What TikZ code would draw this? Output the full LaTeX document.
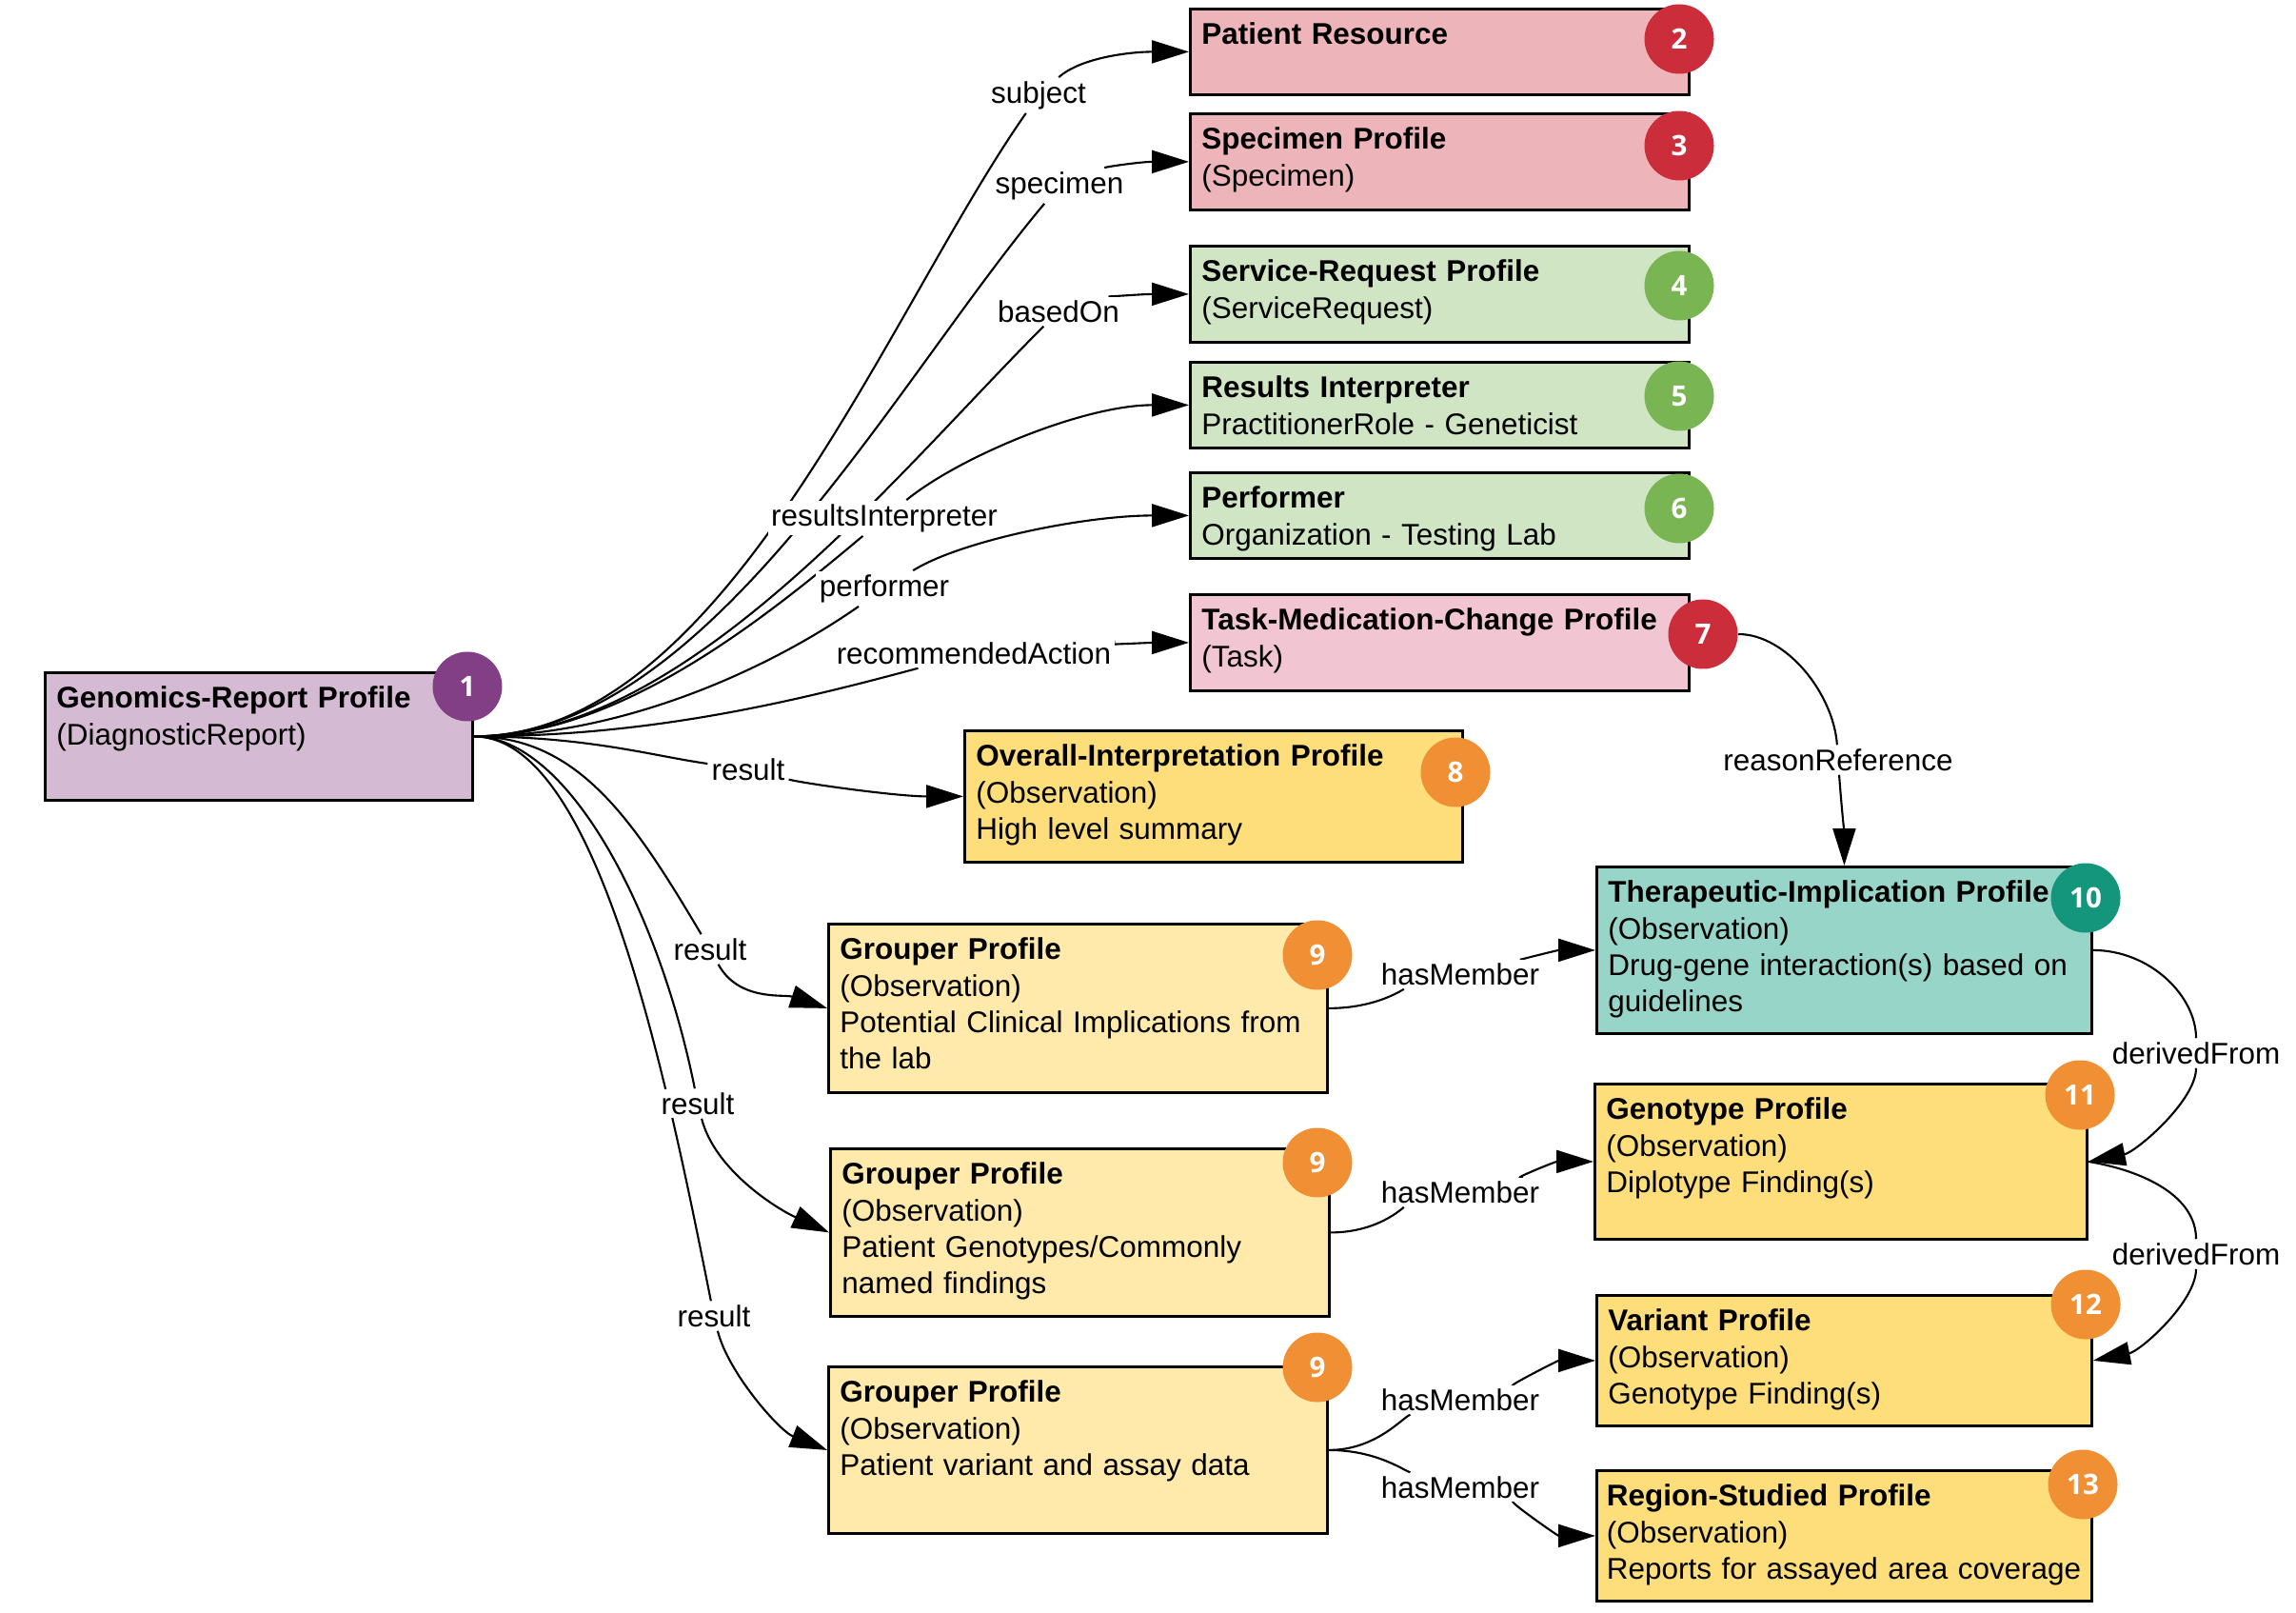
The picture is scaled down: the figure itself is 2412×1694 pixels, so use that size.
\documentclass[tikz,border=0pt]{standalone}
\usepackage{fontspec}
\setmainfont{Liberation Sans}
\newfontfamily\badgefont{Open Sans}
\usetikzlibrary{arrows.meta,backgrounds}

\definecolor{reportfill}{HTML}{D4BBD3}
\definecolor{reportmark}{HTML}{823F85}
\definecolor{redfill}{HTML}{EDB5B9}
\definecolor{taskfill}{HTML}{F2C5D2}
\definecolor{redmark}{HTML}{CB2D3B}
\definecolor{greenfill}{HTML}{D0E5C3}
\definecolor{greenmark}{HTML}{7AB553}
\definecolor{yellowfill}{HTML}{FEDE7B}
\definecolor{grouperfill}{HTML}{FFEAAB}
\definecolor{orangemark}{HTML}{F08F33}
\definecolor{tealfill}{HTML}{98D5C9}
\definecolor{tealmark}{HTML}{14967C}

\newcommand{\profilefont}{\fontsize{8.95pt}{10.9pt}\selectfont}

\begin{document}
\begin{tikzpicture}[x=0.1mm, y=0.1mm,
    profile/.style={draw, line width=0.8pt, anchor=north west, align=left,
        inner xsep=1.2mm, inner ysep=0pt, text height=3.75mm, font=\profilefont},
    badge/.style={circle, minimum size=7.3mm, inner sep=0pt, text=white,
        font=\badgefont\bfseries\fontsize{8.4pt}{9pt}\selectfont},
    tag/.style={fill=white, inner sep=1pt, font=\profilefont},
    link/.style={-{Triangle[length=3.9mm,width=2.4mm]}, line width=0.6pt}]
        \useasboundingbox (0,0) rectangle (2412,-1694);

        % Define the profile boxes
        \node[profile, fill=reportfill, text width=42.5mm, text depth=9.65mm] (report) at (46,-705)
            {\textbf{Genomics-Report Profile}\\(DiagnosticReport)};
        \node[profile, fill=redfill, text width=50mm, text depth=5.25mm] (patient) at (1249,-8)
            {\textbf{Patient Resource}};
        \node[profile, fill=redfill, text width=50mm, text depth=6.35mm] (specimen) at (1249,-118)
            {\textbf{Specimen Profile}\\(Specimen)};
        \node[profile, fill=greenfill, text width=50mm, text depth=6.35mm] (service) at (1249,-257)
            {\textbf{Service-Request Profile}\\(ServiceRequest)};
        \node[profile, fill=greenfill, text width=50mm, text depth=5.25mm] (interp) at (1249,-379)
            {\textbf{Results Interpreter}\\PractitionerRole - Geneticist};
        \node[profile, fill=greenfill, text width=50mm, text depth=5.25mm] (perf) at (1249,-495)
            {\textbf{Performer}\\Organization - Testing Lab};
        \node[profile, fill=taskfill, text width=50mm, text depth=6.35mm] (task) at (1249,-623)
            {\textbf{Task-Medication-Change Profile}\\(Task)};
        \node[profile, fill=yellowfill, text width=49.9mm, text depth=10.05mm] (overall) at (1012,-766)
            {\textbf{Overall-Interpretation Profile}\\(Observation)\\High level summary};
        \node[profile, fill=grouperfill, text width=50mm, text depth=13.95mm] (grp1) at (869,-969)
            {\textbf{Grouper Profile}\\(Observation)\\Potential Clinical Implications from\\the lab};
        \node[profile, fill=grouperfill, text width=50mm, text depth=13.85mm] (grp2) at (871,-1205)
            {\textbf{Grouper Profile}\\(Observation)\\Patient Genotypes/Commonly\\named findings};
        \node[profile, fill=grouperfill, text width=50mm, text depth=13.75mm] (grp3) at (869,-1434)
            {\textbf{Grouper Profile}\\(Observation)\\Patient variant and assay data};
        \node[profile, fill=tealfill, text width=49.6mm, text depth=13.75mm] (thera) at (1676,-909)
            {\textbf{Therapeutic-Implication Profile}\\(Observation)\\Drug-gene interaction(s) based on\\guidelines};
        \node[profile, fill=yellowfill, text width=49.3mm, text depth=12.55mm] (geno) at (1674,-1137)
            {\textbf{Genotype Profile}\\(Observation)\\Diplotype Finding(s)};
        \node[profile, fill=yellowfill, text width=49.6mm, text depth=9.95mm] (variant) at (1676,-1359)
            {\textbf{Variant Profile}\\(Observation)\\Genotype Finding(s)};
        \node[profile, fill=yellowfill, inner xsep=1.05mm, text width=49.9mm, text depth=9.95mm] (region) at (1676,-1543)
            {\textbf{Region-Studied Profile}\\(Observation)\\\mbox{Reports for assayed area coverage}};

        % Label the references
        \node[tag] (lsubject) at (1091,-100) {subject};
        \node[tag] (lspecimen) at (1113,-195) {specimen};
        \node[tag] (lbased) at (1112,-327) {basedOn};
        \node[tag] (linterp) at (929,-544) {resultsInterpreter};
        \node[tag] (lperf) at (929,-618) {performer};
        \node[tag] (laction) at (1023,-686) {recommendedAction};
        \node[tag] (lres1) at (786,-808) {result};
        \node[tag] (lres2) at (746,-997) {result};
        \node[tag] (lres3) at (733,-1159) {result};
        \node[tag] (lres4) at (750,-1382) {result};
        \node[tag] (lhas1) at (1534,-1023) {hasMember};
        \node[tag] (lhas2) at (1534,-1252) {hasMember};
        \node[tag] (lhas3) at (1534,-1470) {hasMember};
        \node[tag] (lhas4) at (1534,-1562) {hasMember};
        \node[tag] (lder1) at (2307,-1106) {derivedFrom};
        \node[tag] (lder2) at (2307,-1317) {derivedFrom};
        \node[tag] (lreason) at (1931,-798) {reasonReference};

        % Draw the references behind the labels
        \begin{pgfonlayer}{background}
        \draw[link] (report.east) .. controls +(264,0) and +(-161,-230) .. (lsubject)
            .. controls +(45,40) and +(-60,0) .. (patient.west);
        \draw[link] (report.east) .. controls +(244,0) and +(-174,-207) .. (lspecimen)
            .. controls +(50,20) and +(-50,0) .. (specimen.west);
        \draw[link] (report.east) .. controls +(224,0) and +(-170,-170) .. (lbased)
            .. controls +(50,15) and +(-50,0) .. (service.west);
        \draw[link] (report.east) .. controls +(154,0) and +(-123,-103) .. (linterp)
            .. controls +(80,65) and +(-110,0) .. (interp.west);
        \draw[link] (report.east) .. controls +(154,0) and +(-123,-86) .. (lperf)
            .. controls +(80,50) and +(-110,0) .. (perf.west);
        \draw[link] (report.east) .. controls +(184,0) and +(-193,-52) .. (laction)
            .. controls +(60,5) and +(-40,0) .. (task.west);
        \draw[link] (report.east) .. controls +(120,0) and +(-100,14) .. (lres1)
            .. controls +(60,-15) and +(-70,0) .. (overall.west);
        \draw[link] (report.east) .. controls +(110,0) and +(-80,135) .. (lres2)
            .. controls +(30,-55) and +(-45,15) .. (grp1.west);
        \draw[link] (report.east) .. controls +(100,0) and +(-40,200) .. (lres3)
            .. controls +(18,-70) and +(-55,25) .. (grp2.west);
        \draw[link] (report.east) .. controls +(130,0) and +(-50,250) .. (lres4)
            .. controls +(15,-60) and +(-50,20) .. (grp3.west);
        \draw[link] (grp1.east) .. controls +(50,0) and +(-60,-16) .. (lhas1)
            .. controls +(50,12) and +(-40,0) .. (thera.west);
        \draw[link] (grp2.east) .. controls +(50,0) and +(-60,-16) .. (lhas2)
            .. controls +(50,12) and +(-40,0) .. (geno.west);
        \draw[link] (grp3.east) .. controls +(50,0) and +(-60,-18) .. (lhas3)
            .. controls +(50,14) and +(-40,0) .. (variant.west);
        \draw[link] (grp3.east) .. controls +(50,0) and +(-60,18) .. (lhas4)
            .. controls +(50,-14) and +(-40,0) .. (region.west);
        \draw[link] (thera.east) .. controls +(60,0) and +(0,60) .. (lder1)
            .. controls +(0,-50) and +(50,10) .. (geno.east);
        \draw[link] (geno.east) .. controls +(60,-10) and +(0,60) .. (lder2)
            .. controls +(0,-50) and +(50,10) .. (variant.east);
        \end{pgfonlayer}

        % Number the profiles
        \node[badge, fill=reportmark] (n1) at (491,-721) {1};
        \node[badge, fill=redmark] (n2) at (1764,-41) {2};
        \node[badge, fill=redmark] (n3) at (1764,-153) {3};
        \node[badge, fill=greenmark] (n4) at (1764,-300) {4};
        \node[badge, fill=greenmark] (n5) at (1764,-416) {5};
        \node[badge, fill=greenmark] (n6) at (1764,-534) {6};
        \node[badge, fill=redmark] (n7) at (1789,-666) {7};
        \node[badge, fill=orangemark] (n8) at (1529,-811) {8};
        \node[badge, fill=orangemark] (n9a) at (1384,-1003) {9};
        \node[badge, fill=orangemark] (n9b) at (1384,-1221) {9};
        \node[badge, fill=orangemark] (n9c) at (1384,-1436) {9};
        \node[badge, fill=tealmark] (n10) at (2191,-943) {10};
        \node[badge, fill=orangemark] (n11) at (2185,-1150) {11};
        \node[badge, fill=orangemark] (n12) at (2191,-1370) {12};
        \node[badge, fill=orangemark] (n13) at (2188,-1559) {13};

        % Draw the task reference
        \begin{pgfonlayer}{background}
        \draw[link] (n7.east) .. controls +(50,0) and +(-5,70) .. (lreason)
            .. controls +(2,-30) and +(0,30) .. (thera.north);
        \end{pgfonlayer}
    \end{tikzpicture}
\end{document}
